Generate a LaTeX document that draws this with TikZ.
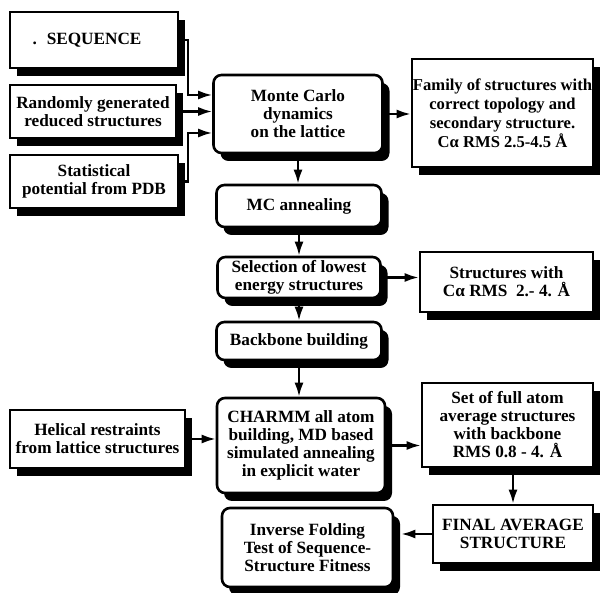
\documentclass[tikz,border=0pt]{standalone}
\usepackage{fontspec}
\setmainfont{Liberation Serif}
\usetikzlibrary{shadows,arrows.meta,calc}
\begin{document}
\begin{tikzpicture}[x=1pt,y=1pt,
  base/.style={draw=black, line width=2.6pt, fill=white, align=center,
    font=\bfseries\fontsize{17.2}{18}\selectfont, inner sep=1pt,
    drop shadow={shadow xshift=7pt, shadow yshift=-8pt, fill=black, opacity=1}},
  sq/.style={base},
  rd/.style={base, rounded corners=8pt},
  arr/.style={line width=2.2pt, -{Latex[length=14pt,width=9pt]}}
]
\useasboundingbox (0,0) rectangle (600,593);

% left inputs
\node[sq, minimum width=168pt, minimum height=56pt] (seq) at (94,553) {.\hspace{10pt}SEQUENCE\hspace{14pt}};
\node[sq, minimum width=166pt, minimum height=53pt] (rand) at (93,481.5) {Randomly generated\\reduced structures};
\node[sq, minimum width=168pt, minimum height=53pt] (stat) at (94,411.5) {Statistical\\potential from PDB};

% main column
\node[rd, minimum width=169pt, minimum height=78pt] (mc) at (298,479) {Monte Carlo\\dynamics\hspace*{1.2em}\\on the lattice};
\node[rd, minimum width=165pt, minimum height=42pt] (anneal) at (299,387) {MC annealing};
\node[rd, minimum width=163pt, minimum height=41pt] (sel) at (299,315.5) {Selection of lowest\\energy structures};
\node[rd, minimum width=165pt, minimum height=38pt] (back) at (299,252) {Backbone building};
\node[rd, minimum width=168pt, minimum height=95pt] (charmm) at (301,147.5) {CHARMM all atom\\building, MD based\\simulated annealing\\in explicit water};
\node[rd, minimum width=171pt, minimum height=79pt] (inv) at (307.5,45.5) {Inverse Folding\\Test of Sequence-\\Structure Fitness};

% right results
\node[sq, minimum width=181pt, minimum height=108pt, inner sep=0pt, font=\bfseries\fontsize{16.6}{19}\selectfont] (fam) at (502.5,480) {Family of structures with\\correct topology and\\secondary structure.\\Cα RMS 2.5-4.5 Å};
\node[sq, minimum width=173pt, minimum height=60pt] (struct) at (506.5,311) {Structures with\\Cα RMS\ \ 2.- 4. Å};
\node[sq, minimum width=171pt, minimum height=84pt] (set) at (507.5,168) {Set of full atom\\average structures\\with backbone\\RMS 0.8 - 4. Å};
\node[sq, minimum width=160pt, minimum height=58pt] (final) at (513,59) {FINAL AVERAGE\\STRUCTURE};

% left bottom input
\node[sq, minimum width=175pt, minimum height=58pt] (helical) at (97.5,154) {Helical restraints\\from lattice structures};

% connectors
\draw[arr] (seq.east) -- ++(9,0) |- ($(mc.west)+(0,19)$);
\draw[arr] (rand.east) -- (rand.east -| mc.west);
\draw[arr] (stat.east) -- ++(9,0) |- ($(mc.west)+(0,-19)$);
\draw[arr] (mc.east) -- (mc.east -| fam.west);
\draw[arr] (mc.south) -- (mc.south |- anneal.north);
\draw[arr] (anneal.south) -- (anneal.south |- sel.north);
\draw[arr] (sel.east) -- (sel.east -| struct.west);
\draw[arr] (sel.south) -- (sel.south |- back.north);
\draw[arr] (back.south) -- (back.south |- charmm.north);
\draw[arr] (helical.east) -- (helical.east -| charmm.west);
\draw[arr] (charmm.east) -- (charmm.east -| set.west);
\draw[arr] (final.north |- set.south) -- (final.north);
\draw[arr] (final.west) -- ($(final.west -| inv.east)+(7,0)$);
\end{tikzpicture}
\end{document}
